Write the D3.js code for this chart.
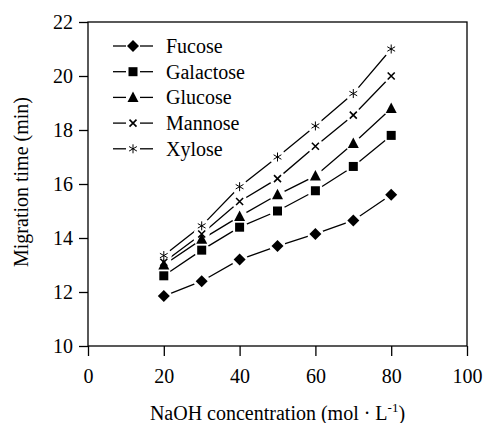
<!DOCTYPE html>
<html>
<head>
<meta charset="utf-8">
<script src="https://cdn.jsdelivr.net/npm/d3@7"></script>
<style>
  body { margin: 0; background: #fff; }
</style>
</head>
<body>
<script>
// NaOH concentration vs migration time
const naoh = [20, 30, 40, 50, 60, 70, 80]
const fucose    = [11.85, 12.4, 13.2, 13.7, 14.15, 14.65, 15.6]
const galactose = [12.6, 13.55, 14.4, 15.0, 15.75, 16.65, 17.8]
const glucose   = [13.0, 13.95, 14.8, 15.6, 16.3, 17.5, 18.8]
const mannose   = [13.1, 14.15, 15.35, 16.2, 17.4, 18.55, 20.0]
const xylose    = [13.35, 14.45, 15.9, 17.0, 18.15, 19.35, 21.0]

const names = ['Fucose', 'Galactose', 'Glucose', 'Mannose', 'Xylose']
const shapes = ['diamond', 'square', 'triangle', 'cross', 'star']
const xTicks = [0, 20, 40, 60, 80, 100]
const yTicks = [10, 12, 14, 16, 18, 20, 22]

const serif = '"Liberation Serif", "Times New Roman", serif'

const series = [fucose, galactose, glucose, mannose, xylose].map(function(vals, i) {
    return { name: names[i], shape: shapes[i], values: vals.map(function(v, j) { return { x: naoh[j], y: v } }) }
})

const m = { left: 88, top: 22, width: 379, height: 324 }

const svg = d3.select('body').append('svg')
    .attr('width', 486)
    .attr('height', 423)
    .attr('font-family', serif)

const g = svg.append('g')
    .attr('transform', 'translate(' + m.left + ',' + m.top + ')')

const x = d3.scaleLinear().domain([0, 100]).range([0, m.width])
const y = d3.scaleLinear().domain([10, 22]).range([m.height, 0])

// frame
g.append('rect')
    .attr('width', m.width)
    .attr('height', m.height)
    .attr('fill', 'none')
    .attr('stroke', '#000')
    .attr('stroke-width', 1.3)

const xAxis = g.append('g')
    .attr('transform', 'translate(0,' + m.height + ')')
    .call(d3.axisBottom(x).tickValues(xTicks).tickSize(10).tickPadding(13))
const yAxis = g.append('g')
    .call(d3.axisLeft(y).tickValues(yTicks).tickSize(9).tickPadding(6))

;[xAxis, yAxis].forEach(function(a) {
    a.attr('font-family', serif).attr('font-size', 20)
    a.select('.domain').remove()
    a.selectAll('line').attr('stroke', '#000').attr('stroke-width', 1.3)
    a.selectAll('text').attr('fill', '#000')
})

svg.append('text')
    .attr('x', m.left + m.width / 2)
    .attr('y', 420)
    .attr('text-anchor', 'middle')
    .attr('font-family', serif)
    .attr('font-size', 20)
    .html('NaOH concentration (mol · L<tspan font-size="13" dy="-8">-1</tspan><tspan dy="8">)</tspan>')

svg.append('text')
    .attr('transform', 'translate(28,' + (m.top + 160) + ') rotate(-90)')
    .attr('text-anchor', 'middle')
    .attr('font-family', serif)
    .attr('font-size', 20)
    .text('Migration time (min)')

function marker(sel, shape) {
    if (shape === 'diamond') {
        sel.append('path').attr('d', 'M0,-6L6,0L0,6L-6,0Z').attr('fill', '#000')
    } else if (shape === 'square') {
        sel.append('rect').attr('x', -4.5).attr('y', -4.5).attr('width', 9).attr('height', 9).attr('fill', '#000')
    } else if (shape === 'triangle') {
        sel.append('path').attr('d', 'M0,-6L5.5,4.5L-5.5,4.5Z').attr('fill', '#000')
    } else if (shape === 'cross') {
        sel.append('path').attr('d', 'M-3.5,-3.5L3.5,3.5M3.5,-3.5L-3.5,3.5')
            .attr('stroke', '#000').attr('stroke-width', 1.6).attr('fill', 'none')
    } else {
        sel.append('path').attr('d', 'M0,-4.5L0,4.5M-3.9,-2.25L3.9,2.25M3.9,-2.25L-3.9,2.25')
            .attr('stroke', '#000').attr('stroke-width', 1).attr('fill', 'none')
    }
}

const line = d3.line().x(function(d) { return x(d.x) }).y(function(d) { return y(d.y) })

// lines first, then white gaps, then markers
g.selectAll('.series-line')
    .data(series)
    .enter()
    .append('path')
        .attr('class', 'series-line')
        .attr('d', function(d) { return line(d.values) })
        .attr('fill', 'none')
        .attr('stroke', '#000')
        .attr('stroke-width', 1.3)

series.forEach(function(s) {
    g.selectAll(null)
        .data(s.values)
        .enter()
        .append('circle')
            .attr('cx', function(d) { return x(d.x) })
            .attr('cy', function(d) { return y(d.y) })
            .attr('r', 8)
            .attr('fill', '#fff')
})

series.forEach(function(s) {
    g.selectAll(null)
        .data(s.values)
        .enter()
        .append('g')
            .attr('transform', function(d) { return 'translate(' + x(d.x) + ',' + y(d.y) + ')' })
            .each(function() { marker(d3.select(this), s.shape) })
})

// legend
const legend = svg.append('g')
series.forEach(function(s, i) {
    const row = legend.append('g').attr('transform', 'translate(133,' + (46 + i * 25.7) + ')')
    row.append('line').attr('x1', -20).attr('x2', -7).attr('stroke', '#000').attr('stroke-width', 1.3)
    row.append('line').attr('x1', 7).attr('x2', 20).attr('stroke', '#000').attr('stroke-width', 1.3)
    marker(row, s.shape)
    row.append('text')
        .attr('x', 33)
        .attr('y', 7)
        .attr('font-family', serif)
        .attr('font-size', 20)
        .text(s.name)
})
</script>
</body>
</html>
